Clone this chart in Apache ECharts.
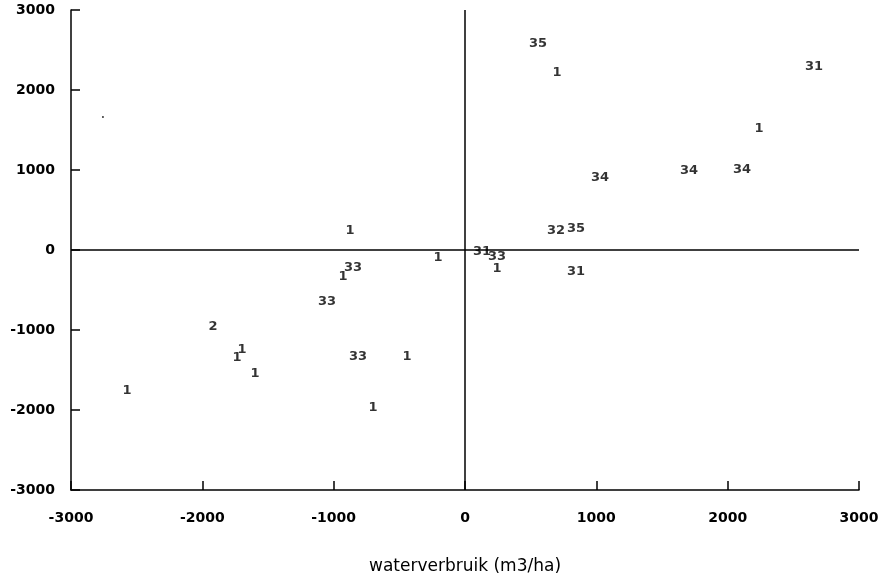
<!DOCTYPE html>
<html>
<head>
<meta charset="utf-8">
<script src="https://cdn.jsdelivr.net/npm/echarts@6/dist/echarts.min.js"></script>
<style>
  html, body { margin: 0; padding: 0; background: #fff; }
  #chart { width: 890px; height: 580px; }
</style>
</head>
<body>
<div id="chart"></div>
<script>
// labels drawn at each point (group codes)
const pointLabels = ['35', '1', '31', '1', '34', '34', '34', '1', '32', '35', '31', '1',
  '31', '33', '1', '33', '1', '33', '2', '1', '1', '1', '33', '1', '1', '1'];
const xValues = [556, 700, 2658, 2239, 1028, 1706, 2110, -876, 693, 845, 845, -206,
  129, 244, 244, -853, -929, -1051, -1919, -1736, -1698, -1599, -815, -442, -701, -2574];
const yValues = [2575, 2212, 2287, 1512, 900, 987, 1000, 237, 237, 262, -275, -100,
  -25, -87, -237, -225, -337, -650, -962, -1350, -1250, -1550, -1337, -1337, -1975, -1762];
// stray dot in upper left
const dotPoints = [[-2757, 1662]];
const axisTicks = [-3000, -2000, -1000, 0, 1000, 2000, 3000];

const textData = xValues.map(function (x, i) {
  return { name: pointLabels[i], value: [x, yValues[i]] };
});

const axisCommon = {
  type: 'value',
  min: axisTicks[0],
  max: axisTicks[axisTicks.length - 1],
  interval: 1000,
  splitLine: { show: false },
  axisLine: { show: true, onZero: false, lineStyle: { color: '#000', width: 1.5 } },
  axisTick: { show: true, inside: true, length: 9, lineStyle: { color: '#000', width: 1.5 } },
  axisLabel: {
    color: '#000',
    fontFamily: 'DejaVu Sans, sans-serif',
    fontWeight: 'bold',
    fontSize: 14,
    formatter: function (v) { return String(v); }
  }
};

const option = {
  animation: false,
  backgroundColor: '#fff',
  grid: { left: 71, right: 31, top: 10, bottom: 83 },
  xAxis: Object.assign({}, axisCommon, {
    name: 'waterverbruik (m3/ha)',
    nameLocation: 'middle',
    nameGap: 68,
    nameTextStyle: {
      color: '#000',
      fontFamily: 'DejaVu Sans, sans-serif',
      fontSize: 17
    },
    axisLabel: Object.assign({}, axisCommon.axisLabel, { margin: 21 })
  }),
  yAxis: Object.assign({}, axisCommon, {
    axisLabel: Object.assign({}, axisCommon.axisLabel, { margin: 16 })
  }),
  series: [
    {
      type: 'scatter',
      symbolSize: 0,
      data: textData,
      label: {
        show: true,
        position: 'inside',
        formatter: function (p) { return p.name; },
        color: '#000',
        textBorderWidth: 0,
        fontFamily: 'DejaVu Sans, sans-serif',
        fontWeight: 'bold',
        fontSize: 13
      },
      markLine: {
        silent: true,
        symbol: 'none',
        label: { show: false },
        lineStyle: { color: '#000', width: 1.5, type: 'solid' },
        data: [{ xAxis: 0 }, { yAxis: 0 }]
      }
    },
    {
      type: 'scatter',
      symbol: 'circle',
      symbolSize: 2,
      itemStyle: { color: '#000' },
      data: dotPoints
    }
  ]
};

const myChart = echarts.init(document.getElementById('chart'));
myChart.setOption(option, true);
</script>
</body>
</html>
